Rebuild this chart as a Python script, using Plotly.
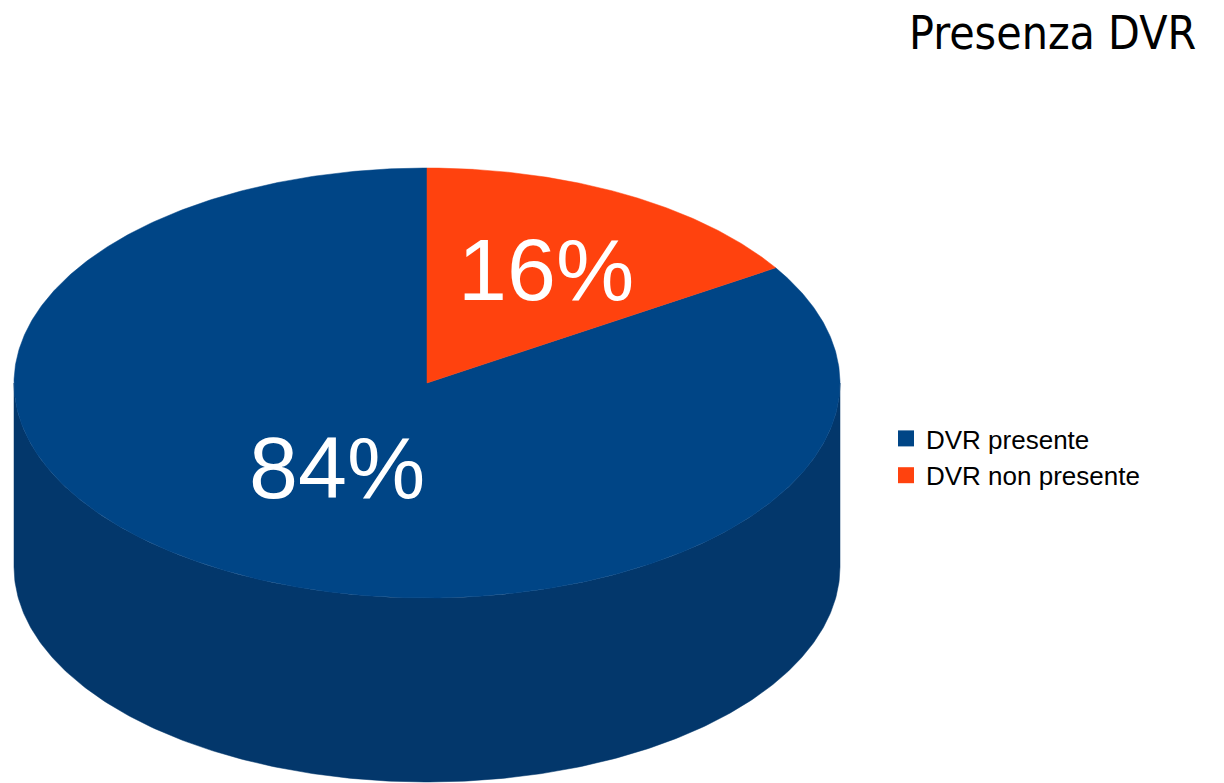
import numpy as np
import plotly.graph_objects as go

# Survey result: is a DVR document present?
categories = ["DVR presente", "DVR non presente"]
shares = [84, 16]
top_colors = ["#004586", "#ff420e"]
side_colors = ["#03376b", "#c8350c"]
title_text = "Presenza DVR"

# Canvas and the 3D disc geometry (in pixel units of the drawing area)
W, H = 1224, 783
CX, CY = 427, 383          # centre of the top face
RX, RY = 413, 215          # radii of the top ellipse
DEPTH = 184                # thickness of the disc
LABEL_R = [0.45, 0.6]      # label distance from centre, as a fraction of radius


def rim(t_deg, drop=0.0):
    t = np.radians(np.asarray(t_deg, dtype=float))
    return CX + RX * np.cos(t), CY - RY * np.sin(t) + drop


fig = go.Figure()

# Slices go counter-clockwise from 12 o'clock
total = float(sum(shares))
start = 90.0
slices = []
for name, val, ct, cs in zip(categories, shares, top_colors, side_colors):
    sweep = val / total * 360.0
    slices.append((name, val, start, start + sweep, ct, cs))
    start += sweep

# Side walls: only the front half (sin t < 0) of the rim is visible
for name, val, a0, a1, ct, cs in slices:
    s_lo, s_hi = min(a0, a1), max(a0, a1)
    for k in range(-1, 3):
        lo = max(s_lo, 360.0 * k + 180.0)
        hi = min(s_hi, 360.0 * k + 360.0)
        if hi > lo:
            ts = np.linspace(lo, hi, 300)
            xt, yt = rim(ts)
            xb, yb = rim(ts[::-1], DEPTH)
            fig.add_trace(go.Scatter(
                x=np.concatenate([xt, xb, xt[:1]]),
                y=np.concatenate([yt, yb, yt[:1]]),
                mode="lines", fill="toself", fillcolor=cs,
                line=dict(color=cs, width=0.5),
                hoverinfo="skip", showlegend=False))

# Top faces
for name, val, a0, a1, ct, cs in slices:
    ts = np.linspace(a0, a1, 600)
    xs, ys = rim(ts)
    fig.add_trace(go.Scatter(
        x=np.concatenate([[CX], xs, [CX]]),
        y=np.concatenate([[CY], ys, [CY]]),
        mode="lines", fill="toself", fillcolor=ct,
        line=dict(color=ct, width=0.5),
        hoverinfo="skip", showlegend=False))

# Percentage labels at each slice's mid angle
for (name, val, a0, a1, ct, cs), fr in zip(slices, LABEL_R):
    t = np.radians((a0 + a1) / 2.0)
    fig.add_annotation(
        x=CX + fr * RX * np.cos(t), y=CY - fr * RY * np.sin(t),
        text=f"{val}%", showarrow=False, xanchor="center", yanchor="middle",
        font=dict(family="Liberation Sans, Arial, sans-serif", size=88, color="white"))

# Legend entries
for name, ct in zip(categories, top_colors):
    fig.add_trace(go.Scatter(
        x=[None], y=[None], mode="markers", name=name,
        marker=dict(symbol="square", size=16, color=ct)))

fig.add_annotation(
    x=1198, y=4, xref="x", yref="y", text=title_text, showarrow=False,
    xanchor="right", yanchor="top",
    font=dict(family="DejaVu Sans Condensed, DejaVu Sans, sans-serif", size=46, color="black"))

fig.update_layout(
    width=W, height=H,
    margin=dict(l=0, r=0, t=0, b=0),
    paper_bgcolor="white", plot_bgcolor="white",
    xaxis=dict(range=[0, W], visible=False, fixedrange=True),
    yaxis=dict(range=[H, 0], visible=False, fixedrange=True),
    showlegend=True,
    legend=dict(x=886 / W, y=1 - 457 / H, xanchor="left", yanchor="middle",
                font=dict(family="Liberation Sans, Arial, sans-serif", size=26, color="black"),
                bgcolor="rgba(0,0,0,0)", itemclick=False, itemdoubleclick=False),
)

fig.write_html("out.html")
